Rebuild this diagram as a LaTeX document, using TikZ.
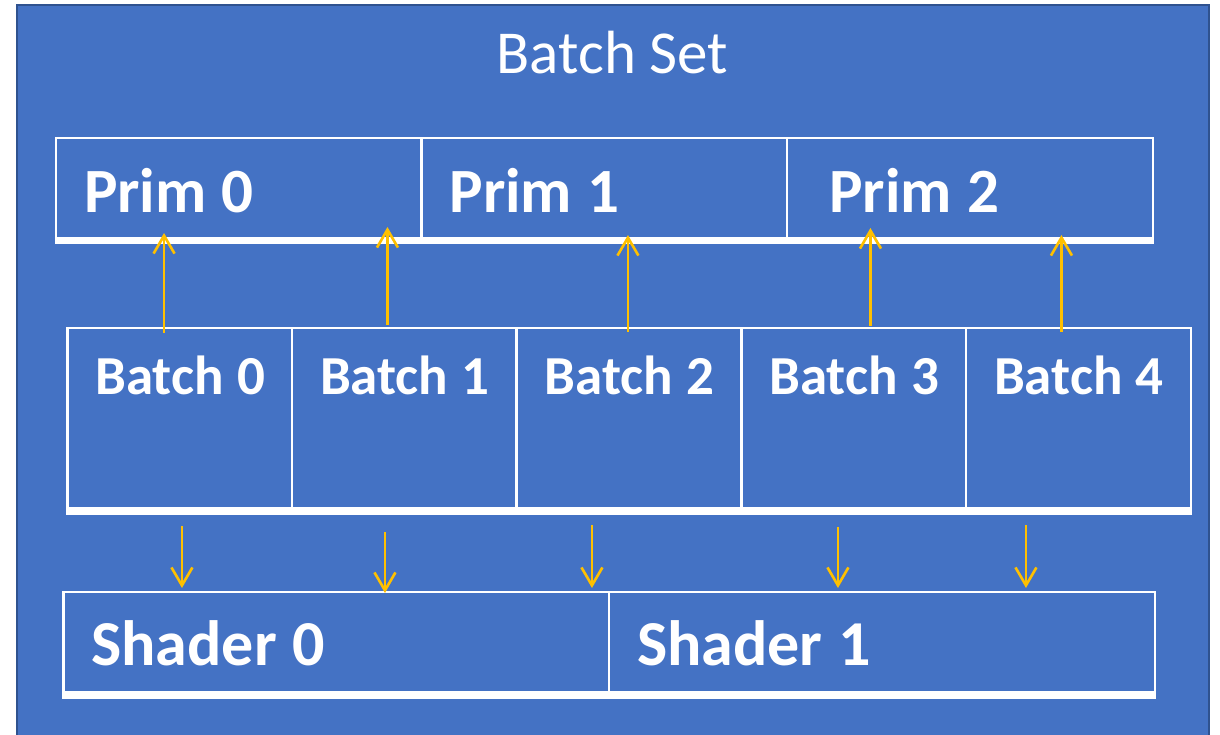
\documentclass[tikz,border=0pt]{standalone}
\usepackage{fontspec}
\setmainfont{Carlito}
\usepackage{xcolor}
\usetikzlibrary{positioning,arrows.meta}
\definecolor{setblue}{HTML}{4472C4}
\definecolor{setedge}{HTML}{2F528F}
\definecolor{flowgold}{HTML}{FFC000}
\newcommand\tightspace{\spaceskip=0.245em\relax\rightskip=0pt plus 2em minus 12pt\relax}

\begin{document}
\begin{tikzpicture}[
    x=1pt, y=-1pt,
    title/.style={text=white, font=\fontsize{61}{72}\selectfont, inner sep=0pt},
    cell/.style={rectangle, draw=white, line width=2.5pt, inner xsep=28pt, inner ysep=0pt, outer sep=0pt, align=left, text=white, execute at begin node=\tightspace},
    primbox/.style={cell, text width=309.6pt, text height=74pt, text depth=28.5pt, font=\bfseries\fontsize{63}{72}\selectfont},
    batchbox/.style={cell, text width=168.7pt, text height=66pt, text depth=117pt, font=\bfseries\fontsize{55}{64}\selectfont},
    shaderbox/.style={cell, text width=489.8pt, text height=73pt, text depth=30pt, font=\bfseries\fontsize{64}{72}\selectfont},
    ledge/.style={white, line width=7.5pt},
    arrow/.style={-{Straight Barb[length=18pt,width=21pt]}, draw=flowgold, line width=2.6pt}
]
    \fill[white] (0,0) rectangle (1220,734);
    \useasboundingbox (0,0) rectangle (1220,734);
    \clip (0,0) rectangle (1220,734);
    \draw[setedge, fill=setblue, line width=2pt] (17,5) rectangle (1209,750);

    \node[title, anchor=base] (title) at (612.5,73) {Batch Set};

    % primitives
    \node[primbox, anchor=north west] (p0) at (56,138) {Prim 0};
    \node[primbox, right=0pt of p0] (p1) {Prim 1};
    \node[primbox, right=0pt of p1] (p2) {\hspace*{14pt}Prim 2};
    \draw[ledge] ([xshift=-1.25pt]p0.south west) -- ([xshift=1.25pt]p2.south east);

    % batches
    \node[batchbox, anchor=north west] (b0) at (67.3,328) {Batch 0};
    \node[batchbox, right=0pt of b0] (b1) {Batch 1};
    \node[batchbox, right=0pt of b1] (b2) {Batch 2};
    \node[batchbox, right=0pt of b2] (b3) {Batch 3};
    \node[batchbox, right=0pt of b3] (b4) {Batch 4};
    \draw[ledge] ([xshift=-1.25pt]b0.south west) -- ([xshift=1.25pt]b4.south east);

    % shaders
    \node[shaderbox, anchor=north west] (s0) at (63.3,592) {Shader 0};
    \node[shaderbox, right=0pt of s0] (s1) {Shader 1};
    \draw[ledge] ([xshift=-1.25pt]s0.south west) -- ([xshift=1.25pt]s1.south east);

    % batch -> prim
    \draw[arrow, shorten <=-5pt, shorten >=-7.5pt] ([xshift=-15.6pt]b0.north) coordinate (u0) -- (u0 |- p0.south);
    \draw[arrow, shorten <=3pt, shorten >=-13.5pt] ([xshift=-16.9pt]b1.north) coordinate (u1) -- (u1 |- p0.south);
    \draw[arrow, shorten <=-4pt, shorten >=-5.5pt] ([xshift=-1.1pt]b2.north) coordinate (u2) -- (u2 |- p1.south);
    \draw[arrow, shorten <=2pt, shorten >=-12.5pt] ([xshift=16.7pt]b3.north) coordinate (u3) -- (u3 |- p2.south);
    \draw[arrow, shorten <=-4pt, shorten >=-5.5pt] ([xshift=-17pt]b4.north) coordinate (u4) -- (u4 |- p2.south);

    % batch -> shader
    \draw[arrow, shorten <=15pt, shorten >=4pt] ([xshift=2.3pt]b0.south) coordinate (d0) -- (d0 |- s0.north);
    \draw[arrow, shorten <=21pt, shorten >=-1pt] ([xshift=-19.4pt]b1.south) coordinate (d1) -- (d1 |- s0.north);
    \draw[arrow, shorten <=14pt, shorten >=4pt] ([xshift=-37.1pt]b2.south) coordinate (d2) -- (d2 |- s0.north);
    \draw[arrow, shorten <=16pt, shorten >=4pt] ([xshift=-15.8pt]b3.south) coordinate (d3) -- (d3 |- s1.north);
    \draw[arrow, shorten <=14pt, shorten >=4pt] ([xshift=-52.5pt]b4.south) coordinate (d4) -- (d4 |- s1.north);
\end{tikzpicture}
\end{document}
